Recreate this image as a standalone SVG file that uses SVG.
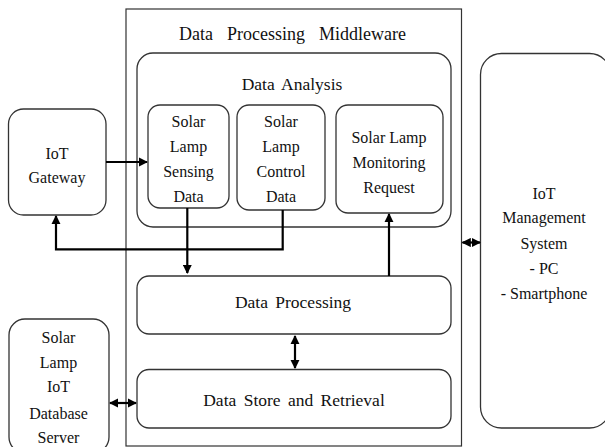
<svg xmlns="http://www.w3.org/2000/svg" width="605" height="447" viewBox="0 0 605 447" font-family="'Liberation Serif', 'Times New Roman', serif">
<style>
.box{fill:#fff;stroke:#333;stroke-width:1.3}
.outer{fill:#fff;stroke:#333;stroke-width:1.2}
.t{fill:#111;text-anchor:middle}
.big{font-size:17.5px;word-spacing:3px}
.sm{font-size:16px}
.c{fill:none;stroke:#000;stroke-width:2.2}
</style>
<defs>
<marker id="ah" viewBox="0 0 10 10" refX="9" refY="5" markerWidth="4.2" markerHeight="4.2" orient="auto-start-reverse" markerUnits="strokeWidth">
<path d="M0,0 L10,5 L0,10 z" fill="#000"/>
</marker>
</defs>
<rect width="605" height="447" fill="#fff"/>
<g id="middleware">
<rect class="outer" x="126" y="9" width="335.5" height="437"/>
<text class="t" x="292.5" y="40" font-size="18" word-spacing="9.5">Data Processing Middleware</text>
</g>
<g id="data-analysis">
<rect class="box" x="137" y="53" width="314" height="174" rx="16"/>
<text class="t big" x="292" y="90">Data Analysis</text>
</g>
<g id="sensing">
<rect class="box" x="148" y="105" width="81" height="103" rx="12"/>
<text class="t sm" x="188.5" y="127">Solar</text>
<text class="t sm" x="188.5" y="152">Lamp</text>
<text class="t sm" x="188.5" y="177">Sensing</text>
<text class="t sm" x="188.5" y="202">Data</text>
</g>
<g id="control">
<rect class="box" x="237" y="105" width="88" height="105" rx="12"/>
<text class="t sm" x="281" y="127">Solar</text>
<text class="t sm" x="281" y="152">Lamp</text>
<text class="t sm" x="281" y="177">Control</text>
<text class="t sm" x="281" y="202">Data</text>
</g>
<g id="monitoring">
<rect class="box" x="336" y="105" width="107" height="108" rx="12"/>
<text class="t sm" x="389" y="143">Solar Lamp</text>
<text class="t sm" x="389" y="168">Monitoring</text>
<text class="t sm" x="389" y="193">Request</text>
</g>
<g id="data-processing">
<rect class="box" x="137" y="276" width="314" height="58" rx="12"/>
<text class="t big" x="293" y="308">Data Processing</text>
</g>
<g id="data-store">
<rect class="box" x="137" y="369.5" width="314" height="58.5" rx="12"/>
<text class="t big" x="294" y="406" font-size="17" word-spacing="2">Data Store and Retrieval</text>
</g>
<g id="gateway">
<rect class="box" x="8.5" y="109" width="97.5" height="106" rx="15"/>
<text class="t sm" x="57" y="159">IoT</text>
<text class="t sm" x="57" y="183">Gateway</text>
</g>
<g id="database">
<rect class="box" x="9" y="319" width="100" height="134" rx="16"/>
<text class="t sm" x="58.5" y="343">Solar</text>
<text class="t sm" x="58.5" y="368">Lamp</text>
<text class="t sm" x="58.5" y="392">IoT</text>
<text class="t sm" x="58.5" y="419">Database</text>
<text class="t sm" x="58.5" y="443">Server</text>
</g>
<g id="management">
<rect class="box" x="480.5" y="53.5" width="130" height="374.5" rx="21"/>
<text class="t sm" x="544" y="199">IoT</text>
<text class="t sm" x="544" y="223">Management</text>
<text class="t sm" x="544" y="249">System</text>
<text class="t sm" x="544" y="274">- PC</text>
<text class="t sm" x="544" y="299">- Smartphone</text>
</g>
<g id="connectors">
<path class="c" d="M106,162 H147" marker-end="url(#ah)"/>
<path class="c" d="M187.3,208 V273" marker-end="url(#ah)"/>
<path class="c" d="M282.7,210 V249.3 H56 V216" marker-end="url(#ah)"/>
<path class="c" d="M389,276 V214" marker-end="url(#ah)"/>
<path class="c" d="M295,336 V368" marker-start="url(#ah)" marker-end="url(#ah)"/>
<path class="c" d="M110,403 H136" marker-start="url(#ah)" marker-end="url(#ah)"/>
<path class="c" d="M462.5,242.5 H480" marker-start="url(#ah)" marker-end="url(#ah)"/>
</g>
</svg>
